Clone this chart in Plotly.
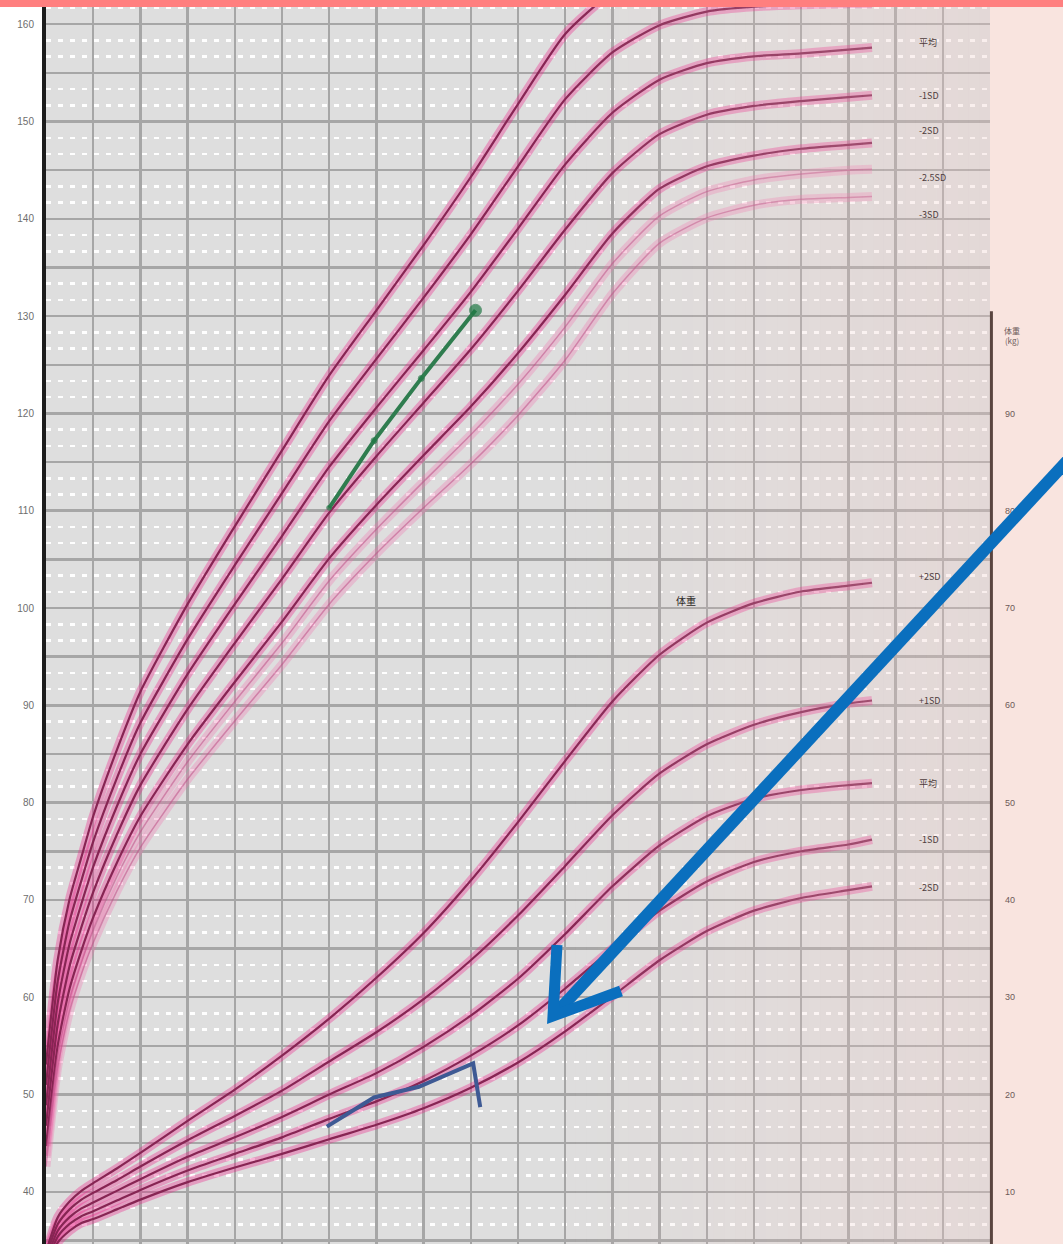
import plotly.graph_objects as go

# ---------------- data ----------------
AGES = [0, 0.25, 0.5, 0.75, 1, 1.5, 2, 3, 4, 5, 6, 7, 8, 9, 10, 11, 12, 13, 14, 15, 16, 17, 17.5]

HEIGHT_P2SD = [53.1, 63.9, 70.1, 74.4, 78.6, 85.4, 91.4, 100.4, 108.4, 116.2, 123.9, 130.6, 137.3, 144.3, 151.8, 159.0, 163.3, 165.5, 166.6, 166.9, 167.0, 167.0, 167.0]
HEIGHT_P1SD = [51.0, 61.7, 67.8, 72.0, 76.0, 82.5, 88.2, 96.8, 104.4, 111.8, 119.2, 125.6, 131.9, 138.4, 145.4, 152.3, 157.1, 159.9, 161.3, 161.8, 162.0, 162.1, 162.1]
HEIGHT_MEAN = [48.9, 59.5, 65.5, 69.6, 73.4, 79.6, 85.0, 93.2, 100.4, 107.4, 114.5, 120.6, 126.5, 132.5, 139.0, 145.6, 150.9, 154.3, 156.0, 156.7, 157.0, 157.4, 157.6]
HEIGHT_M1SD = [46.8, 57.3, 63.2, 67.2, 70.8, 76.7, 81.8, 89.6, 96.4, 103.0, 109.8, 115.6, 121.1, 126.6, 132.6, 138.9, 144.7, 148.7, 150.7, 151.6, 152.1, 152.5, 152.7]
HEIGHT_M2SD = [44.7, 55.1, 60.9, 64.8, 68.2, 73.8, 78.6, 86.0, 92.4, 98.6, 105.1, 110.6, 115.7, 120.7, 126.2, 132.2, 138.5, 143.1, 145.4, 146.5, 147.2, 147.6, 147.8]
HEIGHT_M25SD = [43.7, 54.0, 59.8, 63.6, 66.9, 72.4, 77.0, 84.2, 90.4, 96.4, 102.8, 108.1, 113.0, 117.8, 123.0, 128.9, 135.4, 140.3, 142.8, 144.0, 144.6, 145.0, 145.1]
HEIGHT_M3SD = [42.6, 52.9, 58.6, 62.4, 65.6, 70.9, 75.4, 82.4, 88.4, 94.2, 100.4, 105.6, 110.3, 114.8, 119.8, 125.5, 132.3, 137.5, 140.1, 141.4, 142.0, 142.2, 142.3]

WEIGHT_P2SD = [3.8, 7.4, 9.0, 10.1, 10.9, 12.4, 14.0, 17.3, 20.5, 24.0, 27.8, 32.0, 36.6, 42.0, 48.0, 54.3, 60.4, 65.2, 68.5, 70.5, 71.7, 72.3, 72.6]
WEIGHT_P1SD = [3.4, 6.7, 8.2, 9.2, 9.9, 11.2, 12.6, 15.3, 17.8, 20.4, 23.4, 26.4, 29.8, 33.8, 38.4, 43.5, 48.7, 53.0, 56.0, 58.0, 59.3, 60.2, 60.5]
WEIGHT_MEAN = [3.0, 6.0, 7.4, 8.3, 8.9, 10.1, 11.3, 13.6, 15.6, 17.7, 20.0, 22.2, 24.9, 28.1, 31.9, 36.5, 41.4, 45.6, 48.6, 50.4, 51.3, 51.8, 52.0]
WEIGHT_M1SD = [2.6, 5.4, 6.7, 7.5, 8.0, 9.1, 10.2, 12.2, 13.9, 15.6, 17.5, 19.3, 21.4, 24.0, 27.1, 30.9, 35.0, 38.9, 41.9, 43.9, 45.0, 45.7, 46.2]
WEIGHT_M2SD = [2.2, 4.8, 6.0, 6.8, 7.2, 8.2, 9.2, 11.0, 12.5, 13.9, 15.4, 16.9, 18.6, 20.7, 23.3, 26.5, 30.1, 33.8, 36.8, 38.9, 40.2, 41.0, 41.4]

CHILD_HEIGHT_AGE = [6.0, 6.95, 7.95, 9.1]
CHILD_HEIGHT = [110.3, 117.2, 123.6, 130.6]
CHILD_WEIGHT_AGE = [5.95, 6.95, 7.9, 8.95, 9.05, 9.2]
CHILD_WEIGHT = [16.7, 19.7, 20.8, 22.9, 23.2, 18.7]

HEIGHT_TICKS = [35, 40, 45, 50, 55, 60, 65, 70, 75, 80, 85, 90, 95, 100, 105, 110,
                115, 120, 125, 130, 135, 140, 145, 150, 155, 160]
WEIGHT_TICKS = [10, 20, 30, 40, 50, 60, 70, 80, 90]

HEIGHT_LABELS = ["平均", "-1SD", "-2SD", "-2.5SD", "-3SD"]
HEIGHT_LABEL_Y = [158.1, 152.7, 149.1, 144.2, 140.4]
WEIGHT_LABELS = ["+2SD", "+1SD", "平均", "-1SD", "-2SD"]
WEIGHT_LABEL_Y = [73.2, 60.5, 52.0, 46.2, 41.3]

# ---------------- geometry / styles ----------------
FIG_W, FIG_H = 1063, 1244
PLOT_L, PLOT_R = 46, 73
PLOT_W = FIG_W - PLOT_L - PLOT_R
Y_RANGE = [34.64, 162.49]
Y2_RANGE = [4.64, 132.49]
X_RANGE = [0, 20]

def px_x(px):
    return (px - PLOT_L) / PLOT_W

def px_y(py):
    return (FIG_H - py) / FIG_H

HALO = "rgba(236, 30, 135, 0.34)"
CORE = "#872553"
HALO_LIGHT = "rgba(242, 110, 172, 0.30)"
CORE_LIGHT = "rgba(190, 80, 135, 0.55)"

fig = go.Figure()

height_curves = [(HEIGHT_P2SD, False), (HEIGHT_P1SD, False), (HEIGHT_MEAN, False),
                 (HEIGHT_M1SD, False), (HEIGHT_M2SD, False), (HEIGHT_M25SD, True),
                 (HEIGHT_M3SD, True)]
weight_curves = [WEIGHT_P2SD, WEIGHT_P1SD, WEIGHT_MEAN, WEIGHT_M1SD, WEIGHT_M2SD]

# halos first
for vals, light in height_curves:
    fig.add_trace(go.Scatter(x=AGES, y=vals, mode="lines", yaxis="y",
                             line=dict(color=HALO_LIGHT if light else HALO, width=9,
                                       shape="spline", smoothing=0.6),
                             hoverinfo="skip", showlegend=False))
for vals in weight_curves:
    fig.add_trace(go.Scatter(x=AGES, y=vals, mode="lines", yaxis="y2",
                             line=dict(color=HALO, width=9, shape="spline", smoothing=0.6),
                             hoverinfo="skip", showlegend=False))
# cores
for vals, light in height_curves:
    fig.add_trace(go.Scatter(x=AGES, y=vals, mode="lines", yaxis="y",
                             line=dict(color=CORE_LIGHT if light else CORE,
                                       width=1.5 if light else 2.2,
                                       shape="spline", smoothing=0.6),
                             hoverinfo="skip", showlegend=False))
for vals in weight_curves:
    fig.add_trace(go.Scatter(x=AGES, y=vals, mode="lines", yaxis="y2",
                             line=dict(color=CORE, width=2.2, shape="spline", smoothing=0.6),
                             hoverinfo="skip", showlegend=False))

# child's measurements
fig.add_trace(go.Scatter(x=CHILD_HEIGHT_AGE, y=CHILD_HEIGHT, mode="lines+markers", yaxis="y",
                         line=dict(color="#2f7d4f", width=4),
                         marker=dict(color="#1f7a45", size=[5, 6, 6, 12]),
                         hoverinfo="skip", showlegend=False))
fig.add_trace(go.Scatter(x=CHILD_WEIGHT_AGE, y=CHILD_WEIGHT, mode="lines", yaxis="y2",
                         line=dict(color="#3e5a94", width=4),
                         hoverinfo="skip", showlegend=False))

shapes = []
# pinkish wash on the right part of the grid
n_strips = 40
x0s = 11.0
for i in range(n_strips):
    a0 = x0s + (X_RANGE[1] - x0s) * i / n_strips
    a1 = x0s + (X_RANGE[1] - x0s) * (i + 1) / n_strips
    alpha = 0.32 * ((i + 0.5) / n_strips) ** 0.8
    shapes.append(dict(type="rect", xref="x", yref="paper", x0=a0, x1=a1, y0=0, y1=1,
                       fillcolor=f"rgba(240, 205, 200, {alpha:.3f})", line=dict(width=0),
                       layer="above"))
# right pale panel
shapes.append(dict(type="rect", xref="paper", yref="paper", x0=1, x1=px_x(FIG_W + 2),
                   y0=0, y1=1, fillcolor="#f9e4df", line=dict(width=0), layer="below"))
# right axis line
shapes.append(dict(type="line", xref="paper", yref="y2", x0=1.0015, x1=1.0015,
                   y0=100.5, y1=Y2_RANGE[0], line=dict(color="#5a4540", width=3),
                   layer="above"))
# top salmon bar
shapes.append(dict(type="rect", xref="paper", yref="paper", x0=px_x(-2), x1=px_x(FIG_W + 2),
                   y0=px_y(7), y1=1.01, fillcolor="#ff7f7f", line=dict(width=0),
                   layer="above"))
# big blue arrow
ARROW_TAIL = (1080, 447)
ARROW_TIP = (553, 1016)
WING_A = (557, 945)
WING_B = (621, 991)
shapes.append(dict(type="line", xref="paper", yref="paper",
                   x0=px_x(ARROW_TAIL[0]), y0=px_y(ARROW_TAIL[1]),
                   x1=px_x(ARROW_TIP[0] + 4), y1=px_y(ARROW_TIP[1] - 4),
                   line=dict(color="#0a6fbe", width=12), layer="above"))
shapes.append(dict(type="path", xref="paper", yref="paper",
                   path=(f"M {px_x(WING_A[0])} {px_y(WING_A[1])} "
                         f"L {px_x(ARROW_TIP[0])} {px_y(ARROW_TIP[1])} "
                         f"L {px_x(WING_B[0])} {px_y(WING_B[1])}"),
                   line=dict(color="#0a6fbe", width=11), layer="above"))

annotations = []
LABEL_FONT = dict(family="Noto Sans CJK JP, Noto Sans, sans-serif", size=9, color="#4e3c3c")
for txt, yv in zip(HEIGHT_LABELS, HEIGHT_LABEL_Y):
    annotations.append(dict(x=18.45, y=yv, xref="x", yref="y", text=txt, showarrow=False,
                            xanchor="left", yanchor="middle", font=LABEL_FONT))
for txt, yv in zip(WEIGHT_LABELS, WEIGHT_LABEL_Y):
    annotations.append(dict(x=18.45, y=yv, xref="x", yref="y2", text=txt, showarrow=False,
                            xanchor="left", yanchor="middle", font=LABEL_FONT))
annotations.append(dict(x=13.55, y=70.8, xref="x", yref="y2", text="体重", showarrow=False,
                        xanchor="center", yanchor="middle",
                        font=dict(family="Noto Sans CJK JP", size=10, color="#2e2a28")))
annotations.append(dict(x=px_x(1012), y=px_y(336), xref="paper", yref="paper",
                        text="体重<br>(kg)", showarrow=False, xanchor="center",
                        yanchor="middle",
                        font=dict(family="Noto Sans CJK JP", size=8, color="#6d5a5a")))

fig.update_layout(
    width=FIG_W, height=FIG_H,
    margin=dict(l=PLOT_L, r=PLOT_R, t=0, b=0, pad=0),
    paper_bgcolor="#ffffff",
    plot_bgcolor="#dedede",
    showlegend=False,
    shapes=shapes,
    annotations=annotations,
    xaxis=dict(range=X_RANGE, dtick=1, tick0=0, showgrid=True, gridcolor="#a6a6a6",
               gridwidth=2.5, showticklabels=False, zeroline=False, showline=False, ticks=""),
    yaxis=dict(range=Y_RANGE, tickvals=HEIGHT_TICKS,
               ticktext=[str(v) if v % 10 == 0 else "" for v in HEIGHT_TICKS],
               showgrid=True, gridcolor="#a6a6a6", gridwidth=2.5, zeroline=False,
               showline=True, linecolor="#1c1c1c", linewidth=4, ticks="",
               ticklabelstandoff=6,
               tickfont=dict(family="Liberation Sans, Arial", size=10, color="#6e6e6e"),
               minor=dict(dtick=5 / 3, tick0=0, showgrid=True,
                          gridcolor="rgba(255,255,255,0.95)", gridwidth=2.5,
                          griddash="5px,7px")),
    yaxis2=dict(range=Y2_RANGE, overlaying="y", side="right", tickvals=WEIGHT_TICKS,
                showgrid=False, zeroline=False, showline=False, ticks="",
                ticklabelstandoff=14,
                tickfont=dict(family="Liberation Sans, Arial", size=9, color="#6d5a58")),
)

fig.write_html("out.html",
               config={"displayModeBar": False, "staticPlot": True},
               post_script="document.body.style.margin='0px';document.body.style.padding='0px';")
